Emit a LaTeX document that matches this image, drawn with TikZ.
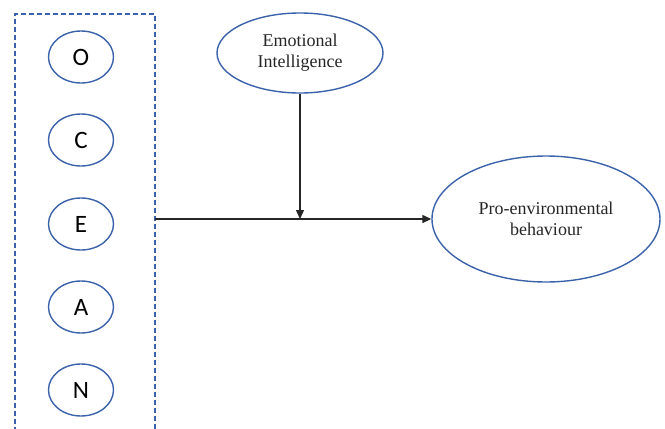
\documentclass[tikz,border=0pt]{standalone}
\usepackage{fontspec}
\setmainfont{Liberation Serif}
\newfontfamily\calfont{Carlito}
\usetikzlibrary{arrows.meta,shapes.geometric}
\definecolor{eblue}{HTML}{3A62AA}
\definecolor{txt}{HTML}{262626}
\begin{document}
\begin{tikzpicture}[x=1pt,y=-1pt,
  trait/.style={ellipse,draw=eblue,line width=1.4pt,minimum width=65pt,minimum height=52pt,inner sep=0pt,font=\calfont\fontsize{25}{29}\selectfont},
  bigell/.style={ellipse,draw=eblue,line width=1.4pt,inner sep=0pt,align=center,text=txt,font=\fontsize{18}{21}\selectfont},
  conn/.style={line width=1.4pt,draw=txt,-{Triangle[length=9pt,width=8pt]}}]
\useasboundingbox (0,0) rectangle (665,429);
\draw[eblue,line width=1.4pt,dash pattern=on 5pt off 3pt] (15,432) -- (15,14) -- (155,14) -- (155,432);
\node[trait] (o) at (81,57) {O};
\node[trait] (c) at (81,140) {C};
\node[trait] (e) at (81,224) {E};
\node[trait] (a) at (81,307) {A};
\node[trait] (n) at (81,390) {N};
\node[bigell,minimum width=166pt,minimum height=80pt] (ei) at (300,53) {Emotional\\Intelligence};
\node[bigell,minimum width=228pt,minimum height=126pt] (pe) at (546,219) {Pro-environmental\\behaviour};
\coordinate (boxE) at (155,219);
\coordinate (j) at (300,219);
\draw[conn] (boxE) -- (pe.west);
\draw[conn] (ei.south) -- (j);
\end{tikzpicture}
\end{document}
